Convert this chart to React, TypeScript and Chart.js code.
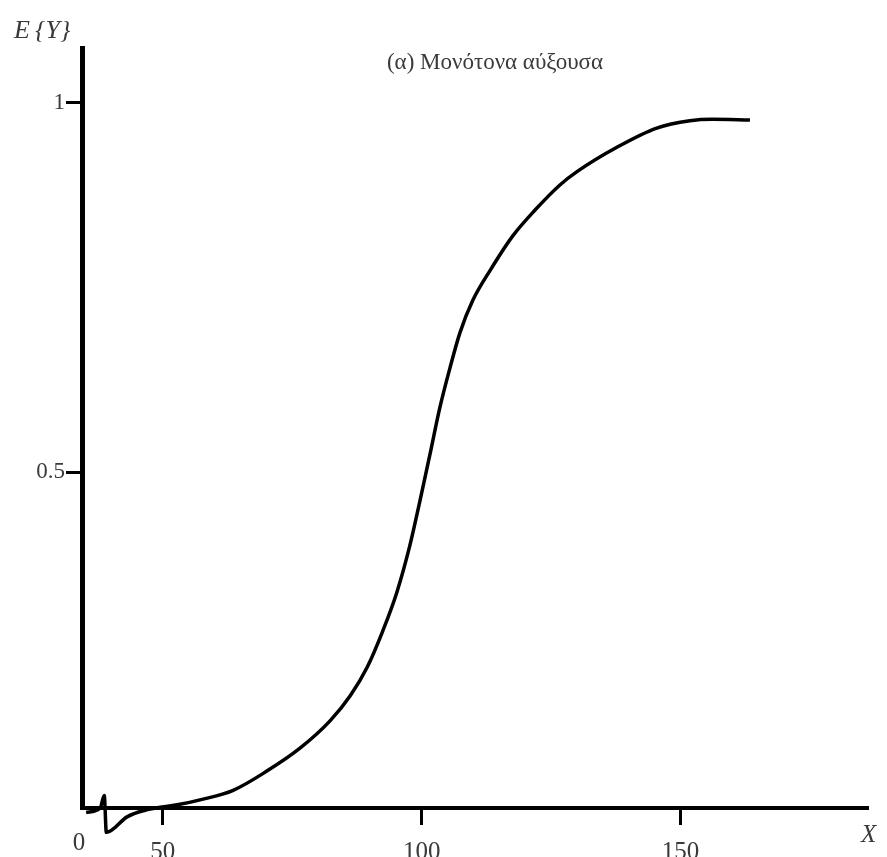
import React, { useEffect, useRef } from "react";
import { Chart, registerables } from "chart.js";

Chart.register(...registerables);

// Curve E{Y} as a function of X
const xValues = [35.2, 37.9, 38.7, 39.1, 43.1, 46.6, 49.5, 53.3, 57.2, 63.6, 70.1, 76.5, 82.3, 86.2, 89.5, 92.5, 95.2, 97.7, 99.7, 101.6, 103.5, 105.5, 107.4, 109.9, 113.2, 117.6, 121.9, 126.7, 130.0, 137.7, 145.4, 151.8, 156.2, 163.4];
const yValues = [0.039, 0.045, 0.062, 0.012, 0.033, 0.042, 0.046, 0.050, 0.056, 0.069, 0.095, 0.126, 0.163, 0.197, 0.236, 0.285, 0.337, 0.400, 0.462, 0.524, 0.587, 0.642, 0.689, 0.733, 0.773, 0.820, 0.855, 0.889, 0.907, 0.940, 0.966, 0.976, 0.978, 0.977];

const xTickValues = [50, 100, 150];
const yTickValues = [0.5, 1];
const yTickLabels = ["0.5", "1"];
const originLabel = "0";
const chartTitle = "(α) Μονότονα αύξουσα";
const yAxisTitle = "E\u2009{Y}";
const xAxisTitle = "X";

const X_MIN = 34.4;
const X_MAX = 186.2;
const Y_MIN = 0.045;
const Y_MAX = 1.0745;

const SERIF = '"Liberation Serif", "DejaVu Serif", serif';

const textPlugin = {
  id: "textPlugin",
  afterDraw(chart: any) {
    const { ctx, chartArea } = chart;
    ctx.save();
    ctx.fillStyle = "#3a3a3a";
    ctx.textAlign = "left";
    ctx.textBaseline = "alphabetic";
    ctx.font = `italic 26px ${SERIF}`;
    ctx.fillText(yAxisTitle, chartArea.left - 68, chartArea.top - 10);
    ctx.font = `italic 25px ${SERIF}`;
    ctx.fillText(xAxisTitle, chartArea.right - 7, chartArea.bottom + 34);
    ctx.font = `23px ${SERIF}`;
    ctx.textAlign = "center";
    ctx.textBaseline = "middle";
    ctx.fillText(chartTitle, (chartArea.left + chartArea.right) / 2 + 20, chartArea.top + 15);
    ctx.font = `25px ${SERIF}`;
    ctx.textBaseline = "top";
    ctx.fillText(originLabel, chartArea.left - 3, chartArea.bottom + 23);
    ctx.restore();
  },
};

export default function App() {
  const canvasRef = useRef<HTMLCanvasElement | null>(null);

  useEffect(() => {
    document.body.style.margin = "0";
    const canvas = canvasRef.current;
    if (!canvas) return;
    const chart = new Chart(canvas, {
      type: "line",
      data: {
        datasets: [
          {
            data: xValues.map((x, i) => ({ x, y: yValues[i] })),
            borderColor: "#000",
            borderWidth: 3.5,
            pointRadius: 0,
            cubicInterpolationMode: "monotone",
            fill: false,
            clip: false as any,
          },
        ],
      },
      options: {
        animation: false,
        responsive: false,
        maintainAspectRatio: false,
        layout: { padding: { top: 48, right: 19, left: 0, bottom: 0 } },
        plugins: {
          legend: { display: false },
          tooltip: { enabled: false },
          title: { display: false },
        },
        scales: {
          x: {
            type: "linear",
            min: X_MIN,
            max: X_MAX,
            afterBuildTicks: (scale: any) => {
              scale.ticks = xTickValues.map((v) => ({ value: v }));
            },
            afterFit: (scale: any) => {
              scale.height = 49;
            },
            grid: {
              display: true,
              drawOnChartArea: false,
              drawTicks: true,
              tickLength: 17,
              tickWidth: 3,
              tickColor: "#000",
            },
            border: { display: true, color: "#000", width: 4 },
            ticks: {
              color: "#3a3a3a",
              font: { family: SERIF, size: 25 },
              padding: 12,
              maxRotation: 0,
              autoSkip: false,
              callback: (v: any) => String(v),
            },
          },
          y: {
            type: "linear",
            min: Y_MIN,
            max: Y_MAX,
            afterBuildTicks: (scale: any) => {
              scale.ticks = yTickValues.map((v) => ({ value: v }));
            },
            afterFit: (scale: any) => {
              scale.width = 82;
            },
            grid: {
              display: true,
              drawOnChartArea: false,
              drawTicks: true,
              tickLength: 16,
              tickWidth: 3,
              tickColor: "#000",
            },
            border: { display: true, color: "#000", width: 5 },
            ticks: {
              color: "#3a3a3a",
              font: { family: SERIF, size: 23 },
              padding: 1,
              autoSkip: false,
              callback: (v: any) => {
                const i = yTickValues.indexOf(Number(v));
                return i >= 0 ? yTickLabels[i] : "";
              },
            },
          },
        },
      },
      plugins: [textPlugin],
    } as any);
    return () => chart.destroy();
  }, []);

  return (
    <div style={{ width: 887, height: 857, background: "#fff" }}>
      <canvas ref={canvasRef} width={887} height={857} style={{ display: "block" }} />
    </div>
  );
}
